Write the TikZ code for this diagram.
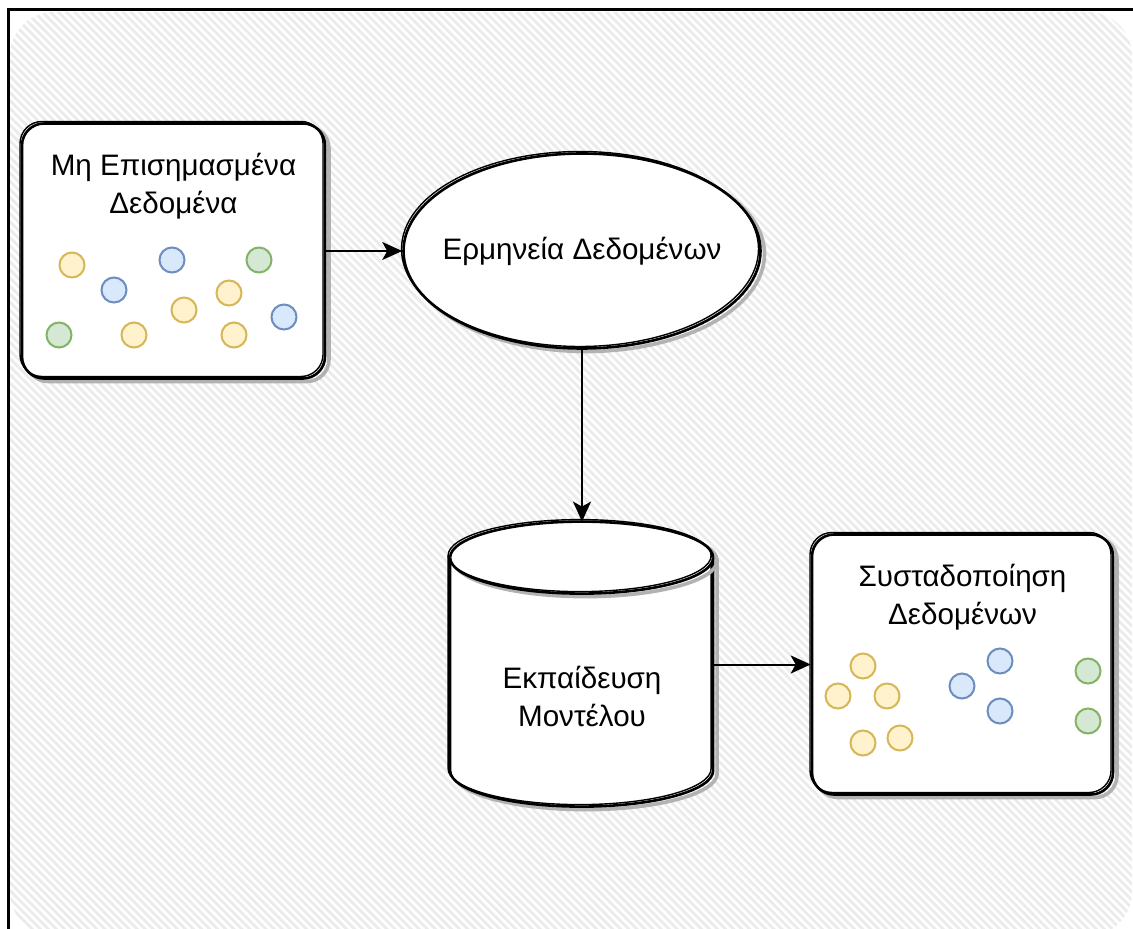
\documentclass[tikz,border=0pt]{standalone}
\usepackage{fontspec}
\setmainfont{Liberation Sans}
\usetikzlibrary{positioning, shapes.geometric, arrows.meta, patterns.meta}

\definecolor{yelfill}{HTML}{FFF2CC}
\definecolor{yeldraw}{HTML}{D6B656}
\definecolor{bluefill}{HTML}{DAE8FC}
\definecolor{bluedraw}{HTML}{6C8EBF}
\definecolor{grnfill}{HTML}{D5E8D4}
\definecolor{grndraw}{HTML}{82B366}

\tikzset{
  sketch/.style={draw, line width=1.3pt, fill=white,
    preaction={draw=black!30, line width=1.8pt, transform canvas={shift={(2pt,-1.5pt)}}},
    postaction={draw, line width=0.7pt, transform canvas={shift={(-1pt,1pt)}}}},
  box/.style={sketch, rounded corners=11pt, minimum width=151.5pt, minimum height=127.5pt},
  caption/.style={align=center, font=\fontsize{14.8}{19}\selectfont},
  dot/.style={circle, draw=#1draw, fill=#1fill, line width=1pt, minimum size=12.5pt, inner sep=0pt},
  arrow/.style={-{Stealth[length=10pt, width=9pt, inset=2.5pt]}, line width=1pt},
}

\begin{document}
\begin{tikzpicture}[x=0.5pt, y=-0.5pt]
  \useasboundingbox (0,0) rectangle (1133,929);
  % Background
  \fill[pattern={Lines[angle=-45, distance=2.85pt, line width=1.4pt]}, pattern color=black!8,
    rounded corners=22pt] (10,12) rectangle (1132,936);
  \draw[line width=1.5pt] (8,940) -- (8,10) -- (1140,10);

  % Nodes
  \node[box] (unlabeled) at (173.5,251) {};
  \node[caption] (unlabeledtext) at ([yshift=-32pt]unlabeled.north) {Μη Επισημασμένα\\Δεδομένα};

  \node[sketch, ellipse, minimum width=178.5pt, minimum height=97.5pt, inner sep=0pt] (interp) at (582,251) {};
  \node[caption] (interptext) at (interp.center) {Ερμηνεία Δεδομένων};

  \node[minimum width=131.5pt, minimum height=142.5pt, inner sep=0pt] (training) at (582,664.5) {};
  \draw[sketch] (training.north west) ++(0,36) -- ++(0,213) arc (180:0:131.5 and 36)
    -- ++(0,-213) arc (0:-180:131.5 and 36) -- cycle;
  \draw[sketch] (training.north west) ++(0,36) arc (180:0:131.5 and 36);
  \node[caption] (trainingtext) at ([yshift=-16pt]training.center) {Εκπαίδευση\\Μοντέλου};

  \node[box, minimum width=150.5pt, minimum height=130pt] (clusters) at (962.5,664.5) {};
  \node[caption] (clusterstext) at ([yshift=-31.75pt]clusters.north) {Συσταδοποίηση\\Δεδομένων};

  % Points
  \foreach \x/\y/\c [count=\i] in {72/265/yel, 172/260/blue, 259/260/grn, 114/290/blue, 229/293/yel,
      184/310/yel, 284/317/blue, 59/335/grn, 134/335/yel, 234/335/yel}
    \node[dot=\c] (raw\i) at (\x,\y) {};
  \foreach \x/\y/\c [count=\i] in {863/666/yel, 838/696/yel, 887/696/yel, 863/743/yel, 900/738/yel,
      1000/661/blue, 962/686/blue, 1000/711/blue, 1088/671/grn, 1088/721/grn}
    \node[dot=\c] (group\i) at (\x,\y) {};

  % Arrows
  \draw[arrow] (unlabeled) -- (interp);
  \draw[arrow] (interp) -- (training);
  \draw[arrow] (training) -- (clusters);
\end{tikzpicture}
\end{document}
